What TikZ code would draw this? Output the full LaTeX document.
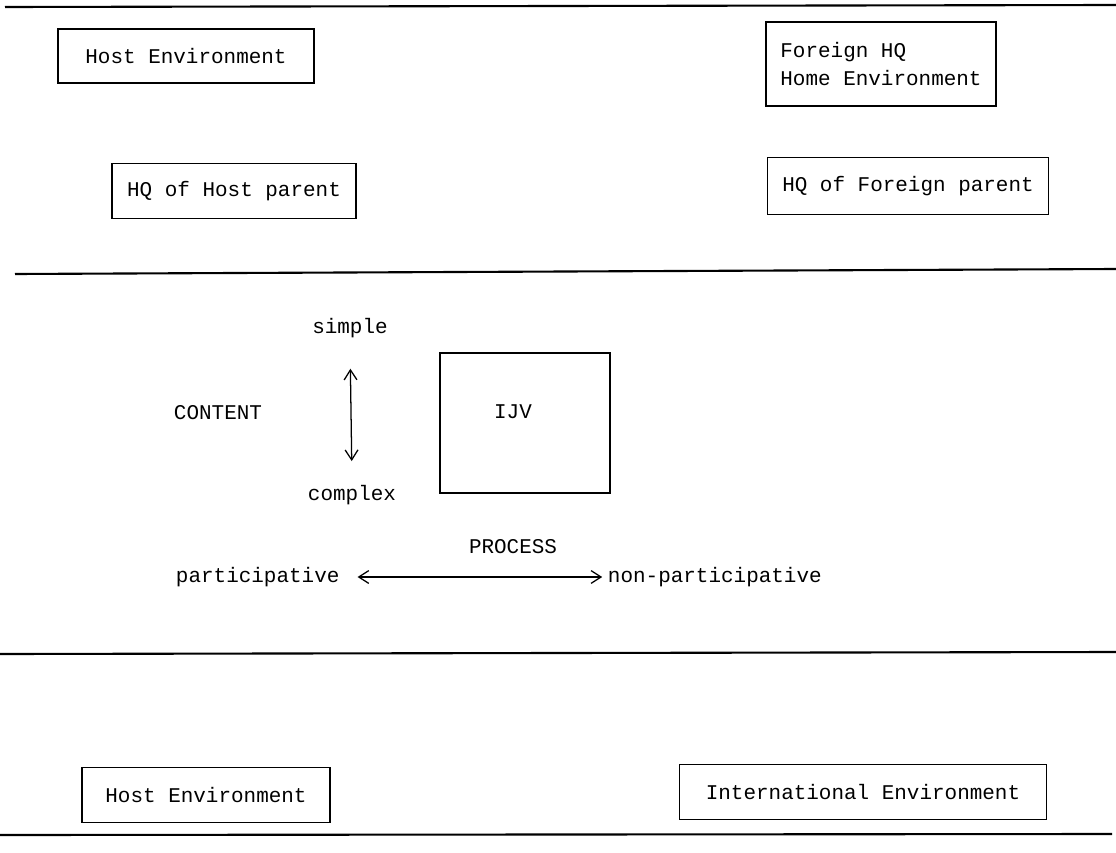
\documentclass[tikz,border=0pt]{standalone}
\usepackage{fontspec}
\setmonofont{Liberation Mono}
\usepackage{tikz}
\usetikzlibrary{arrows.meta}

\begin{document}
\begin{tikzpicture}[x=0.025cm,y=-0.025cm,
	every node/.style={font=\ttfamily\fontsize{14.9pt}{20pt}\selectfont},
	envbox/.style={draw,line width=1.2pt,align=left},
	divider/.style={line width=1.5pt},
	scale arrow/.style={line width=0.9pt,{Straight Barb[length=2.5mm,width=3.2mm]}-{Straight Barb[length=2.5mm,width=3.2mm]}}]
	\useasboundingbox (0,0) rectangle (1116,853);
	% separating lines
	\draw[divider] (5,7) -- (1116,5);
	\draw[divider] (15,274) -- (1116,269);
	\draw[divider] (0,654) -- (1116,652);
	\draw[divider] (0,835) -- (1112,834);
	% environments and parents
	\node[envbox,minimum width=6.4cm,minimum height=1.35cm] (hostenv) at (186,56) {Host Environment};
	\node[envbox,minimum width=6.1cm,minimum height=1.375cm] (hosthq) at (234,191) {HQ of Host parent};
	\node[envbox,minimum width=5.75cm,minimum height=2.1cm] (foreignhq) at (881,64) {Foreign HQ\\Home Environment};
	\node[envbox,minimum width=7.025cm,minimum height=1.425cm] (foreignparent) at (908,186) {HQ of Foreign parent};
	\node[envbox,minimum width=6.2cm,minimum height=1.375cm] (hostenvlow) at (206,795) {Host Environment};
	\node[envbox,minimum width=9.175cm,minimum height=1.375cm] (intenv) at (863,792) {International Environment};
	% the joint venture
	\node[envbox,minimum width=4.25cm,minimum height=3.5cm] (ijv) at (525,423) {};
	\node (ijvlabel) at (513,412) {IJV};
	\node (simple) at (350,328) {simple};
	\node (complex) at (352,495) {complex};
	\node (content) at (218,413) {CONTENT};
	\node (process) at (513,547) {PROCESS};
	\node[anchor=west] (partic) at (171,577) {participative};
	\node[anchor=west] (nonpartic) at (603,577) {non-participative};
	\draw[scale arrow,shorten <=0.65cm,shorten >=0.48cm] (simple.south) -- (complex.north);
	\draw[scale arrow,shorten <=0.33cm,shorten >=0.02cm] (partic.east) -- (nonpartic.west);
\end{tikzpicture}
\end{document}
